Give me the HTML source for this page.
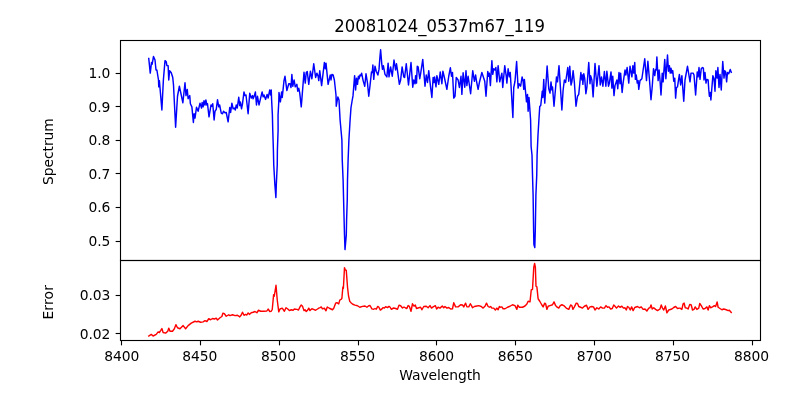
<!DOCTYPE html>
<html lang="en"><head><meta charset="utf-8"><title>20081024_0537m67_119</title>
<style>html,body{margin:0;padding:0;background:#fff;}body{width:800px;height:400px;overflow:hidden;}svg{display:block;}text{font-family:"DejaVu Sans","Liberation Sans",sans-serif;fill:#000;}.t{font-size:13.89px;letter-spacing:-0.08px;}.ti{font-size:16.67px;}.ax{fill:none;stroke:#000;stroke-width:1.11;stroke-linecap:square;}.tk{stroke:#000;stroke-width:1.11;}</style></head><body>
<svg width="800" height="400" viewBox="0 0 800 400">
<rect x="0" y="0" width="800" height="400" fill="#fff"/>
<path d="M148.75 58.50 L150.25 73.12 L151.50 62.50 L152.12 64.38 L153.50 56.50 L155.00 60.00 L156.00 70.00 L156.88 70.00 L158.50 80.00 L158.75 86.88 L159.38 80.62 L161.88 110.00 L163.38 80.00 L165.00 60.62 L166.25 61.88 L166.88 65.62 L168.12 65.62 L168.75 80.00 L169.62 70.62 L171.25 72.75 L172.75 77.50 L173.50 85.00 L175.62 127.25 L177.50 96.25 L179.38 86.25 L182.88 102.75 L185.00 82.75 L186.00 95.62 L187.25 89.38 L188.12 98.75 L189.75 95.62 L190.38 103.75 L191.88 106.88 L193.38 122.50 L194.12 113.75 L195.00 118.12 L196.50 107.25 L198.12 111.25 L200.00 103.12 L201.50 108.12 L202.12 102.50 L203.12 106.88 L204.00 100.62 L205.00 105.00 L205.88 100.00 L206.88 105.00 L207.50 103.75 L209.00 116.88 L211.00 105.00 L211.88 106.25 L212.75 103.75 L214.12 120.00 L215.00 111.25 L216.25 109.38 L217.50 99.75 L218.75 106.88 L219.62 105.00 L221.25 113.12 L222.50 113.75 L223.50 111.25 L225.00 112.75 L226.25 112.50 L228.12 121.88 L229.75 107.50 L230.62 112.50 L231.88 103.12 L233.12 108.75 L234.38 108.12 L235.25 110.00 L236.25 105.00 L237.25 108.12 L238.75 97.25 L239.75 105.62 L240.38 101.88 L241.50 108.75 L242.50 103.75 L244.00 91.88 L245.00 95.62 L246.00 95.00 L248.12 113.75 L249.75 93.12 L251.25 98.12 L252.50 95.62 L253.12 98.75 L254.38 95.62 L255.38 91.88 L256.50 105.00 L257.50 96.25 L259.00 105.00 L260.62 98.12 L262.12 91.88 L263.12 96.88 L264.00 95.00 L265.62 99.38 L267.12 94.38 L268.12 98.12 L269.75 90.00 L270.62 95.00 L271.25 90.00 L271.62 100.00 L272.40 115.00 L272.75 130.00 L273.40 150.00 L273.75 165.00 L274.90 185.00 L275.90 197.60 L276.30 185.00 L277.25 165.00 L277.40 150.00 L278.10 130.00 L278.05 115.00 L278.75 102.50 L279.00 92.50 L280.38 101.88 L281.62 91.88 L282.25 97.50 L284.00 80.62 L285.00 76.25 L286.88 90.62 L288.75 83.75 L290.00 83.75 L291.00 87.50 L291.88 74.38 L292.75 86.25 L294.12 80.00 L295.25 86.88 L296.88 84.38 L297.75 91.25 L298.75 88.12 L299.75 93.12 L301.25 106.88 L304.00 72.25 L305.25 83.12 L306.25 72.50 L307.25 71.50 L308.75 84.38 L310.38 71.25 L311.88 78.75 L313.75 63.75 L315.62 77.50 L316.88 73.12 L318.12 76.25 L318.75 80.62 L319.75 70.62 L321.62 85.62 L324.38 62.50 L325.25 68.75 L326.00 63.12 L328.12 84.38 L330.25 75.00 L331.00 80.00 L331.88 74.38 L333.12 75.00 L334.38 80.00 L336.00 95.00 L336.25 106.25 L337.88 96.88 L339.00 100.00 L340.10 120.00 L341.90 140.00 L342.25 160.00 L343.10 180.00 L343.60 200.00 L344.10 220.00 L344.50 235.00 L345.00 249.60 L346.30 235.00 L346.60 220.00 L347.25 200.00 L347.50 180.00 L348.10 160.00 L348.90 140.00 L350.10 120.00 L351.00 107.50 L352.25 100.00 L353.00 95.88 L354.62 75.62 L355.62 90.00 L356.50 78.12 L357.50 84.38 L358.38 76.25 L359.12 78.75 L360.00 75.00 L360.88 75.62 L361.62 73.12 L363.12 80.62 L364.75 86.25 L366.00 73.75 L367.50 83.12 L368.75 96.25 L370.00 85.62 L371.50 71.88 L372.25 72.50 L372.88 65.00 L373.75 79.38 L375.00 66.25 L376.25 71.25 L377.88 75.00 L379.00 69.38 L380.00 56.25 L380.62 49.75 L381.88 65.00 L382.50 69.38 L383.38 65.62 L385.00 74.38 L386.88 76.88 L388.12 63.12 L389.00 76.88 L390.62 66.88 L392.25 76.25 L394.00 60.00 L395.62 70.00 L396.50 63.75 L397.50 70.62 L399.38 84.38 L400.62 80.00 L402.12 66.88 L403.75 76.88 L404.62 77.50 L406.25 63.75 L408.50 85.00 L411.00 62.50 L412.75 87.25 L413.75 80.00 L415.00 83.75 L415.62 75.62 L416.50 83.12 L417.25 66.25 L418.12 66.88 L419.75 78.75 L420.62 73.75 L422.75 59.38 L425.00 86.25 L426.25 75.00 L427.50 82.50 L428.75 70.62 L430.62 87.50 L431.88 97.50 L433.12 77.50 L434.00 82.50 L434.62 76.88 L436.00 86.88 L436.88 75.62 L438.75 84.38 L440.25 71.88 L441.88 83.75 L442.88 71.25 L444.38 77.50 L446.88 89.38 L448.75 76.25 L450.38 67.75 L451.50 76.25 L452.50 72.50 L453.75 98.12 L455.00 96.25 L456.25 77.50 L458.12 80.00 L459.38 87.50 L461.00 76.25 L461.88 94.38 L463.12 72.75 L464.75 87.25 L466.00 70.62 L466.88 85.62 L468.12 76.25 L470.62 93.75 L472.75 70.62 L474.38 81.25 L475.62 75.00 L476.50 81.25 L478.12 89.38 L479.38 82.50 L481.88 72.50 L484.75 81.25 L486.00 96.25 L487.75 71.50 L488.75 76.25 L489.38 73.12 L490.38 85.62 L491.88 60.62 L492.75 74.38 L493.75 68.75 L495.00 70.00 L495.88 67.50 L496.88 81.88 L498.12 65.62 L499.75 81.88 L501.88 73.12 L502.75 87.50 L504.75 65.62 L506.25 76.25 L506.88 83.12 L508.12 68.75 L509.38 76.88 L510.25 72.50 L512.88 117.50 L513.75 87.50 L515.00 81.25 L516.62 61.50 L518.12 88.12 L519.12 83.75 L520.62 86.25 L522.12 76.88 L523.12 81.25 L523.75 89.38 L524.38 79.38 L525.62 92.50 L526.50 101.88 L527.50 94.38 L528.12 111.25 L529.00 97.50 L530.00 111.25 L530.60 120.00 L530.90 135.00 L531.10 146.50 L532.00 155.00 L532.50 175.00 L533.10 195.00 L533.60 230.00 L533.90 244.50 L534.80 247.60 L535.30 230.00 L535.90 195.00 L536.75 175.00 L537.10 155.00 L538.00 135.00 L538.90 120.00 L539.75 106.50 L540.75 105.50 L542.25 91.25 L542.88 97.50 L543.75 79.38 L544.75 103.12 L547.12 66.00 L548.75 88.75 L550.00 93.12 L551.00 81.88 L551.88 90.00 L552.50 86.88 L554.00 106.25 L556.50 76.88 L557.50 81.88 L559.00 65.62 L561.88 110.00 L563.12 90.00 L564.38 80.00 L565.62 82.50 L567.75 67.50 L568.75 81.25 L569.75 66.25 L571.00 85.00 L571.88 81.88 L573.12 70.62 L574.38 82.50 L576.00 106.25 L577.50 96.25 L578.75 94.38 L580.88 72.50 L581.88 80.00 L582.50 75.00 L582.88 84.38 L583.75 73.75 L584.75 78.75 L585.88 93.75 L586.88 87.50 L588.75 62.50 L590.00 83.75 L590.62 75.62 L591.88 80.00 L593.12 96.88 L595.00 63.50 L596.88 86.25 L599.00 65.62 L600.25 85.00 L601.50 76.88 L602.88 86.25 L604.38 71.50 L605.88 86.25 L606.88 71.25 L608.50 86.25 L609.38 83.12 L611.00 71.88 L611.88 88.12 L612.75 76.25 L614.00 95.62 L615.00 85.62 L616.88 80.00 L617.75 88.75 L619.00 72.50 L620.00 83.75 L620.62 73.12 L622.12 92.50 L623.12 83.12 L625.00 70.00 L625.88 75.00 L627.12 67.50 L628.75 83.12 L630.00 66.25 L631.88 76.88 L632.88 65.62 L633.75 73.12 L634.75 62.50 L635.38 79.38 L636.25 75.00 L637.25 83.12 L638.12 80.62 L638.75 89.38 L640.00 80.62 L641.88 78.75 L644.75 58.75 L646.50 80.62 L647.88 61.25 L649.38 78.75 L651.00 99.75 L652.25 86.25 L653.50 68.75 L654.75 75.62 L655.62 69.38 L656.25 70.00 L656.88 56.88 L658.12 80.62 L659.12 70.00 L660.00 80.00 L661.00 95.00 L662.25 73.12 L663.12 81.88 L664.75 59.38 L665.88 78.75 L667.50 55.00 L668.50 71.25 L669.38 65.62 L670.25 73.12 L671.00 68.12 L671.88 73.12 L672.75 70.62 L673.75 81.25 L674.75 78.12 L675.62 98.12 L676.50 87.50 L677.50 86.88 L679.38 74.38 L680.62 85.00 L681.88 75.62 L683.75 101.25 L685.00 80.00 L687.50 66.25 L690.00 81.88 L691.00 73.12 L693.12 73.12 L694.00 75.00 L695.62 95.00 L697.25 71.88 L698.12 76.88 L699.00 67.50 L700.00 79.38 L701.25 68.75 L702.50 67.50 L703.38 68.12 L704.00 80.00 L705.00 72.50 L706.00 83.12 L706.88 79.38 L708.12 80.00 L708.75 89.38 L709.38 96.25 L710.25 92.50 L710.88 100.00 L712.88 75.62 L714.00 78.75 L715.00 91.25 L715.88 70.62 L717.12 78.12 L717.88 67.50 L719.00 87.50 L720.00 74.38 L721.25 90.00 L722.75 61.50 L724.00 78.12 L724.75 70.62 L725.62 71.88 L726.62 81.88 L727.50 72.50 L728.75 73.75 L730.25 69.38 L731.25 72.25" fill="none" stroke="#0000ff" stroke-width="1.45" stroke-linejoin="round" stroke-linecap="square"/>
<path d="M148.75 336.00 L151.25 334.38 L153.12 336.00 L156.25 334.38 L158.12 331.88 L159.38 332.50 L160.62 330.62 L161.88 328.50 L163.12 332.50 L165.62 333.12 L167.75 331.25 L168.75 328.12 L170.00 331.25 L172.50 331.25 L174.38 328.75 L175.88 324.62 L177.50 327.75 L180.00 328.75 L183.12 325.62 L185.62 328.75 L188.12 325.62 L191.25 323.12 L195.00 321.25 L196.88 321.88 L198.12 321.25 L200.62 322.25 L203.12 321.88 L205.00 320.62 L206.88 321.50 L208.75 318.75 L210.62 319.75 L212.50 318.50 L214.38 319.00 L216.25 318.12 L217.50 320.00 L220.00 317.75 L221.88 316.50 L222.88 313.12 L224.38 313.75 L226.25 316.25 L228.75 314.75 L230.00 315.62 L232.50 314.75 L235.00 315.62 L237.50 315.25 L239.75 316.88 L241.25 315.00 L242.50 312.25 L244.00 315.25 L245.62 314.38 L246.88 315.00 L248.12 312.88 L249.38 314.38 L251.25 312.75 L253.12 312.25 L255.00 311.50 L256.88 312.75 L258.50 310.25 L260.62 311.25 L263.75 311.25 L266.88 311.00 L268.12 309.00 L269.75 311.50 L271.25 311.25 L272.25 309.50 L273.62 294.62 L274.25 296.25 L276.00 285.25 L277.25 300.00 L278.75 311.88 L280.00 309.00 L282.25 308.12 L284.38 311.25 L286.00 307.75 L287.50 308.75 L289.38 310.62 L291.25 309.75 L293.12 310.25 L294.38 309.00 L296.88 309.38 L298.50 310.00 L300.00 306.88 L301.25 305.00 L302.50 306.25 L304.00 310.62 L305.00 309.75 L306.25 311.50 L307.75 310.00 L308.75 308.12 L310.00 310.62 L311.88 308.75 L313.50 309.38 L315.62 310.25 L317.50 309.00 L318.75 308.12 L320.00 307.62 L321.25 307.00 L322.50 308.88 L324.38 308.25 L326.00 310.75 L327.25 307.00 L329.38 308.25 L332.50 309.75 L333.75 308.25 L335.62 303.25 L336.88 302.62 L338.75 303.88 L339.75 300.12 L341.25 299.25 L341.88 298.25 L342.88 287.00 L343.38 288.25 L344.50 267.62 L345.38 270.12 L346.25 270.12 L347.50 287.00 L348.50 295.75 L349.75 301.38 L351.25 303.00 L352.75 304.25 L355.00 305.12 L357.50 305.75 L359.75 307.25 L362.50 306.38 L365.00 306.00 L366.88 307.25 L368.75 305.75 L370.00 305.50 L371.88 308.88 L373.75 309.25 L375.00 308.50 L376.25 309.25 L377.75 306.38 L378.75 307.00 L380.38 310.12 L381.88 308.88 L383.12 307.62 L384.38 308.00 L385.62 306.75 L387.50 307.62 L389.00 306.38 L390.00 307.00 L391.25 309.25 L393.75 308.00 L395.62 308.50 L397.50 309.25 L399.00 305.12 L400.62 305.75 L402.50 308.00 L404.00 307.00 L405.62 308.00 L406.88 308.50 L408.12 305.50 L409.38 306.38 L411.00 311.25 L412.50 303.75 L414.00 306.25 L415.25 305.00 L416.50 308.50 L418.75 307.75 L420.62 307.25 L421.88 309.75 L423.75 306.50 L426.25 306.25 L428.12 307.75 L430.00 305.62 L431.50 308.12 L433.12 306.88 L435.38 305.62 L436.62 309.00 L438.12 307.25 L440.00 308.12 L442.25 306.00 L443.75 307.75 L445.00 306.50 L446.88 308.12 L448.75 307.50 L450.62 309.00 L452.50 308.75 L453.75 302.75 L455.62 306.88 L458.12 306.88 L460.62 304.75 L462.50 305.00 L463.75 306.88 L465.62 303.12 L466.88 306.88 L468.75 306.88 L470.38 303.75 L471.50 305.62 L472.50 307.75 L474.38 306.50 L476.88 306.00 L478.75 305.62 L481.25 306.50 L483.12 308.12 L485.00 306.25 L486.50 303.12 L488.12 306.50 L489.38 307.25 L490.62 306.50 L491.88 308.12 L493.75 308.12 L495.38 310.00 L496.88 308.12 L498.12 309.75 L499.38 306.50 L500.00 307.25 L501.88 306.88 L503.12 308.75 L505.00 308.75 L507.50 307.25 L510.00 306.25 L512.50 304.75 L515.00 305.62 L516.88 309.38 L517.75 305.25 L519.38 307.25 L522.50 307.25 L525.00 306.00 L526.88 304.00 L528.12 301.25 L530.00 301.88 L531.25 290.00 L532.50 289.38 L533.75 267.50 L534.62 263.50 L535.38 267.50 L536.00 286.25 L536.88 286.88 L538.12 298.75 L539.75 301.25 L541.88 305.00 L543.12 306.88 L544.75 303.12 L545.62 303.75 L546.88 309.38 L548.12 306.25 L550.00 305.62 L552.50 304.75 L554.00 301.88 L555.62 305.62 L556.88 306.88 L558.75 308.12 L560.25 305.62 L561.88 304.75 L563.75 305.62 L566.25 308.12 L568.75 309.38 L570.62 305.00 L571.88 305.62 L572.88 309.38 L574.38 306.88 L576.25 303.12 L577.50 303.50 L578.75 306.50 L580.62 307.25 L582.50 308.12 L584.38 306.25 L586.50 305.25 L588.12 309.38 L590.00 306.88 L591.88 306.50 L593.50 306.88 L595.00 310.00 L596.88 307.75 L598.75 309.00 L600.62 306.88 L602.50 308.12 L604.38 308.12 L606.00 305.62 L607.50 307.25 L609.00 306.88 L610.62 309.00 L612.25 308.50 L613.75 305.00 L615.00 306.25 L616.50 308.12 L618.50 306.00 L620.00 307.25 L621.88 306.25 L623.50 308.12 L625.00 307.75 L626.25 310.00 L627.50 306.50 L628.75 307.25 L630.25 310.00 L631.62 306.88 L633.12 310.62 L634.75 307.50 L637.50 306.50 L639.38 307.75 L641.25 306.88 L643.12 309.38 L645.00 309.00 L646.88 311.00 L648.75 308.12 L650.00 307.75 L651.00 305.00 L652.25 309.00 L653.75 307.75 L655.62 309.38 L657.50 310.62 L660.00 309.00 L661.25 305.00 L662.50 308.12 L663.75 310.00 L665.38 306.00 L666.88 312.75 L668.75 310.00 L671.88 309.00 L673.75 307.50 L675.62 306.50 L677.50 308.50 L679.38 308.12 L680.00 308.12 L681.88 309.38 L683.12 303.75 L684.12 303.12 L685.25 307.75 L686.88 308.12 L688.12 309.00 L689.75 304.38 L691.25 305.00 L692.50 310.00 L694.00 309.38 L695.25 306.88 L696.88 309.38 L698.75 308.12 L699.75 303.50 L701.25 305.62 L703.12 309.00 L705.00 308.50 L706.88 306.88 L708.12 310.00 L709.38 305.62 L710.62 307.75 L712.50 306.88 L714.38 305.62 L715.62 306.50 L717.12 301.88 L718.12 307.25 L720.00 308.50 L721.88 309.75 L723.75 309.00 L726.25 309.75 L728.12 310.62 L729.38 310.25 L731.25 312.50" fill="none" stroke="#ff0000" stroke-width="1.42" stroke-linejoin="round" stroke-linecap="square"/>
<rect class="ax" x="120.5" y="40.5" width="640.0" height="220.0"/>
<rect class="ax" x="120.5" y="260.5" width="640.0" height="80.0"/>
<line class="tk" x1="115.64" x2="120.50" y1="73.50" y2="73.50"/>
<text class="t" x="110.3" y="78" text-anchor="end">1.0</text>
<line class="tk" x1="115.64" x2="120.50" y1="106.50" y2="106.50"/>
<text class="t" x="110.3" y="112" text-anchor="end">0.9</text>
<line class="tk" x1="115.64" x2="120.50" y1="140.50" y2="140.50"/>
<text class="t" x="110.3" y="145" text-anchor="end">0.8</text>
<line class="tk" x1="115.64" x2="120.50" y1="173.50" y2="173.50"/>
<text class="t" x="110.3" y="179" text-anchor="end">0.7</text>
<line class="tk" x1="115.64" x2="120.50" y1="207.50" y2="207.50"/>
<text class="t" x="110.3" y="212" text-anchor="end">0.6</text>
<line class="tk" x1="115.64" x2="120.50" y1="241.50" y2="241.50"/>
<text class="t" x="110.3" y="246" text-anchor="end">0.5</text>
<line class="tk" x1="115.64" x2="120.50" y1="295.50" y2="295.50"/>
<text class="t" x="110.3" y="300" text-anchor="end">0.03</text>
<line class="tk" x1="115.64" x2="120.50" y1="333.50" y2="333.50"/>
<text class="t" x="110.3" y="339" text-anchor="end">0.02</text>
<line class="tk" x1="121.50" x2="121.50" y1="340.50" y2="345.36"/>
<text class="t" x="121.80" y="360.6" text-anchor="middle">8400</text>
<line class="tk" x1="200.50" x2="200.50" y1="340.50" y2="345.36"/>
<text class="t" x="199.70" y="360.6" text-anchor="middle">8450</text>
<line class="tk" x1="279.50" x2="279.50" y1="340.50" y2="345.36"/>
<text class="t" x="278.60" y="360.6" text-anchor="middle">8500</text>
<line class="tk" x1="358.50" x2="358.50" y1="340.50" y2="345.36"/>
<text class="t" x="357.50" y="360.6" text-anchor="middle">8550</text>
<line class="tk" x1="436.50" x2="436.50" y1="340.50" y2="345.36"/>
<text class="t" x="436.40" y="360.6" text-anchor="middle">8600</text>
<line class="tk" x1="515.50" x2="515.50" y1="340.50" y2="345.36"/>
<text class="t" x="515.30" y="360.6" text-anchor="middle">8650</text>
<line class="tk" x1="594.50" x2="594.50" y1="340.50" y2="345.36"/>
<text class="t" x="594.20" y="360.6" text-anchor="middle">8700</text>
<line class="tk" x1="673.50" x2="673.50" y1="340.50" y2="345.36"/>
<text class="t" x="672.50" y="360.6" text-anchor="middle">8750</text>
<line class="tk" x1="752.50" x2="752.50" y1="340.50" y2="345.36"/>
<text class="t" x="751.40" y="360.6" text-anchor="middle">8800</text>
<text class="t" x="440" y="380" text-anchor="middle">Wavelength</text>
<text class="ti" transform="translate(439.7,32) scale(0.989,1.08)" text-anchor="middle">20081024_0537m67_119</text>
<text class="t" transform="translate(52.5,151.6) rotate(-90)" text-anchor="middle">Spectrum</text>
<text class="t" style="letter-spacing:0.15px" transform="translate(52.5,302.3) rotate(-90)" text-anchor="middle">Error</text>
</svg></body></html>
